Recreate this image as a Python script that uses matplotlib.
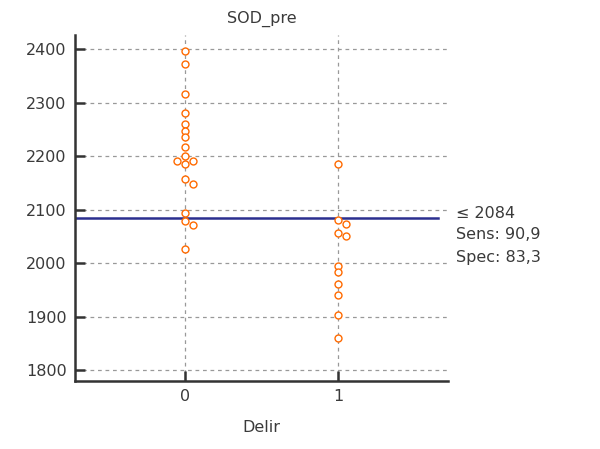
import matplotlib
matplotlib.use("Agg")
import matplotlib.pyplot as plt
import numpy as np

# SOD_pre values, per Delir group
group_labels = ["0", "1"]
sod_delir0 = [2397, 2372, 2316, 2282, 2260, 2247, 2236, 2217, 2201,
              2191, 2191, 2186, 2157, 2148, 2094, 2079, 2071, 2027]
sod_delir1 = [2186, 2082, 2074, 2057, 2051, 1996, 1983, 1962, 1940,
              1904, 1861]
cutoff = 2084
sens = "90,9"
spec = "83,3"

TEXT = "#3a3a3a"
ORANGE = "#ff6a00"
NAVY = "#2b2f8f"
FS = 11.5

plt.rcParams["font.family"] = "DejaVu Sans"
plt.rcParams["font.size"] = FS

fig = plt.figure(figsize=(6.0, 4.49), dpi=100)
ax = fig.add_axes([0.125, 0.1514, 0.6217, 0.7706])

ylim = (1780, 2427)
xlim = (-0.72, 1.72)
ax.set_xlim(*xlim)
ax.set_ylim(*ylim)

# convert pixels to data units so markers can be dodged when they touch
ax_w_px = fig.get_figwidth() * fig.dpi * 0.6217
ax_h_px = fig.get_figheight() * fig.dpi * 0.7706
x_per_px = (xlim[1] - xlim[0]) / ax_w_px
y_per_px = (ylim[1] - ylim[0]) / ax_h_px


def dodge(values, center, min_gap_px=5.5, step_px=8):
    placed = []
    xs = []
    for v in values:
        for slot in (0, 1, -1, 2, -2):
            clash = any(s == slot and abs(v - pv) / y_per_px < min_gap_px
                        for pv, s in placed)
            if not clash:
                break
        placed.append((v, slot))
        xs.append(center + slot * step_px * x_per_px)
    return xs


for i, vals in enumerate([sod_delir0, sod_delir1]):
    order = sorted(vals, reverse=True)
    xs = dodge(order, i)
    ax.plot(xs, order, "o", ls="none", ms=5, mfc="white", mec=ORANGE,
            mew=1.0, zorder=3)

ax.axhline(cutoff, xmin=0, xmax=0.973, color=NAVY, lw=1.8, zorder=2)

for txt, dy in [("\u2264 %d" % cutoff, 5),
                ("Sens: %s" % sens, -16),
                ("Spec: %s" % spec, -39)]:
    ax.annotate(txt, xy=(1.0, cutoff), xycoords=("axes fraction", "data"),
                xytext=(8, dy), textcoords="offset pixels",
                ha="left", va="center", color=TEXT, fontsize=FS,
                annotation_clip=False)

ax.set_xticks([0, 1])
ax.set_xticklabels(group_labels)
ax.set_yticks(np.arange(1800, 2401, 100))
ax.grid(True, color="#999999", ls=(0, (3, 3)), lw=0.9)
ax.set_axisbelow(True)

for side in ("top", "right"):
    ax.spines[side].set_visible(False)
for side in ("left", "bottom"):
    ax.spines[side].set_linewidth(1.8)
    ax.spines[side].set_color("#333333")
ax.tick_params(direction="in", length=7, width=1.8, color="#333333",
               labelcolor=TEXT, labelsize=FS, pad=6)

ax.set_title("SOD_pre", color=TEXT, fontsize=FS, pad=9)
ax.set_xlabel("Delir", color=TEXT, fontsize=FS, labelpad=11)

fig.savefig("out.png", dpi=100)
